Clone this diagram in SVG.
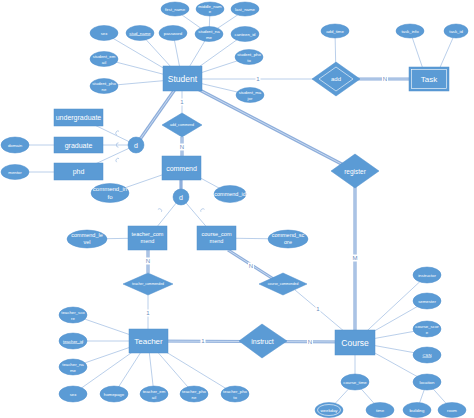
<svg xmlns="http://www.w3.org/2000/svg" width="474" height="418" viewBox="0 0 474 418">
<style>
.bg{fill:#fff}
.n{fill:#5b9bd5;stroke:#4f8fcc;stroke-width:0.5}
.w{fill:none;stroke:#fff;stroke-width:0.6}
.t{font-family:'Liberation Sans',Arial,sans-serif;fill:#fff;text-anchor:middle}
.a{font-size:4.3px}
.r{font-size:7px}
.e{font-size:8.5px}
.ln{stroke:#a8c3e5;stroke-width:0.8;fill:none}
.dbo{stroke:#8eaedb;stroke-width:3.2;fill:none}
.dbi{stroke:#d6e3f5;stroke-width:0.8;fill:none}
.c{font-family:'Liberation Sans',Arial,sans-serif;font-size:6px;fill:#6a8bbd;text-anchor:middle}
.cb{fill:#fff}
.sub{fill:none;stroke:#a8c3e5;stroke-width:0.8}
.u{text-decoration:underline}
</style>
<rect class="bg" x="0" y="0" width="474" height="418"/>
<g id="connectors">
  <!-- Student attributes -->
  <line class="ln" x1="182" y1="79" x2="104" y2="33"/>
  <line class="ln" x1="182" y1="79" x2="140" y2="33"/>
  <line class="ln" x1="182" y1="79" x2="173" y2="33"/>
  <line class="ln" x1="182" y1="79" x2="209" y2="34"/>
  <line class="ln" x1="182" y1="79" x2="245" y2="34"/>
  <line class="ln" x1="182" y1="79" x2="249" y2="57"/>
  <line class="ln" x1="182" y1="79" x2="250" y2="95"/>
  <line class="ln" x1="182" y1="79" x2="104" y2="59"/>
  <line class="ln" x1="182" y1="79" x2="104" y2="86"/>
  <line class="ln" x1="209" y1="34" x2="175" y2="10"/>
  <line class="ln" x1="209" y1="34" x2="210" y2="10"/>
  <line class="ln" x1="209" y1="34" x2="245" y2="10"/>
  <!-- Student - add - Task -->
  <line class="ln" x1="182" y1="79" x2="336" y2="79"/>
  <line class="ln" x1="335" y1="31" x2="336" y2="79"/>
  <line class="dbo" x1="336" y1="79" x2="429" y2="79"/>
  <line class="dbi" x1="336" y1="79" x2="429" y2="79"/>
  <line class="ln" x1="410" y1="31" x2="424" y2="72"/>
  <line class="ln" x1="456" y1="31" x2="438" y2="72"/>
  <!-- Student - register - Course -->
  <line class="dbo" x1="192" y1="86" x2="355" y2="171"/>
  <line class="dbi" x1="192" y1="86" x2="355" y2="171"/>
  <line class="dbo" x1="355" y1="171" x2="355" y2="342"/>
  <line class="dbi" x1="355" y1="171" x2="355" y2="342"/>
  <!-- Student specialization -->
  <line class="dbo" x1="136" y1="145" x2="178" y2="85"/>
  <line class="dbi" x1="136" y1="145" x2="178" y2="85"/>
  <line class="ln" x1="78" y1="117" x2="136" y2="145"/>
  <line class="ln" x1="78" y1="145" x2="136" y2="145"/>
  <line class="ln" x1="78" y1="172" x2="136" y2="145"/>
  <line class="ln" x1="15" y1="145" x2="78" y2="145"/>
  <line class="ln" x1="15" y1="172" x2="78" y2="172"/>
  <path class="sub" d="M119,131.2 a2.2,2.2 0 0 0 -2.1,3.9"/>
  <path class="sub" d="M118.5,142.8 a2.2,2.2 0 0 0 0,4.4"/>
  <path class="sub" d="M119,158.5 a2.2,2.2 0 0 0 -2.3,3.7"/>
  <!-- add_commend / commend -->
  <line class="ln" x1="182" y1="91" x2="182" y2="113"/>
  <line class="dbo" x1="182" y1="137" x2="182" y2="156"/>
  <line class="dbi" x1="182" y1="137" x2="182" y2="156"/>
  <line class="ln" x1="110" y1="193" x2="182" y2="168"/>
  <line class="ln" x1="230" y1="194" x2="182" y2="168"/>
  <line class="dbo" x1="181" y1="180" x2="181" y2="197"/>
  <line class="ln" x1="181" y1="197" x2="148" y2="238"/>
  <line class="ln" x1="181" y1="197" x2="216" y2="238"/>
  <path class="sub" d="M161.5,211.8 a2.2,2.2 0 0 0 -3.6,-2.4"/>
  <path class="sub" d="M204.5,209.4 a2.2,2.2 0 0 0 -3.6,2.4"/>
  <line class="ln" x1="87" y1="239" x2="148" y2="238"/>
  <line class="ln" x1="288" y1="239" x2="216" y2="238"/>
  <!-- teacher_commended -->
  <line class="dbo" x1="148" y1="250" x2="148" y2="273"/>
  <line class="dbi" x1="148" y1="250" x2="148" y2="273"/>
  <line class="ln" x1="148" y1="295" x2="148" y2="329"/>
  <!-- course_commended -->
  <line class="dbo" x1="228" y1="250" x2="275" y2="280"/>
  <line class="dbi" x1="228" y1="250" x2="275" y2="280"/>
  <line class="ln" x1="295" y1="290" x2="345" y2="332"/>
  <!-- instruct -->
  <line class="dbo" x1="148" y1="341" x2="355" y2="342"/>
  <line class="dbi" x1="148" y1="341" x2="355" y2="342"/>
  <!-- Teacher attributes -->
  <line class="ln" x1="148" y1="341" x2="73" y2="315"/>
  <line class="ln" x1="148" y1="341" x2="73" y2="341"/>
  <line class="ln" x1="148" y1="341" x2="73" y2="367"/>
  <line class="ln" x1="148" y1="341" x2="73" y2="394"/>
  <line class="ln" x1="148" y1="341" x2="114" y2="394"/>
  <line class="ln" x1="148" y1="341" x2="154" y2="394"/>
  <line class="ln" x1="148" y1="341" x2="194" y2="394"/>
  <line class="ln" x1="148" y1="341" x2="235" y2="394"/>
  <!-- Course attributes -->
  <line class="ln" x1="355" y1="342" x2="427" y2="275"/>
  <line class="ln" x1="355" y1="342" x2="427" y2="301"/>
  <line class="ln" x1="355" y1="342" x2="427" y2="329"/>
  <line class="ln" x1="355" y1="342" x2="427" y2="355"/>
  <line class="ln" x1="355" y1="342" x2="427" y2="382"/>
  <line class="ln" x1="355" y1="342" x2="355" y2="382"/>
  <line class="ln" x1="355" y1="382" x2="329" y2="410"/>
  <line class="ln" x1="355" y1="382" x2="380" y2="410"/>
  <line class="ln" x1="427" y1="382" x2="417" y2="410"/>
  <line class="ln" x1="427" y1="382" x2="452" y2="410"/>
  <!-- cardinalities -->
  <rect class="cb" x="255.5" y="75.5" width="5" height="7"/><text class="c" x="258" y="81">1</text>
  <rect class="cb" x="382" y="75.5" width="6" height="7"/><text class="c" x="385" y="81">N</text>
  <rect class="cb" x="351.5" y="254.5" width="7" height="7"/><text class="c" x="355" y="260">M</text>
  <rect class="cb" x="179.5" y="98.5" width="5" height="7"/><text class="c" x="182" y="104">1</text>
  <rect class="cb" x="179" y="143.5" width="6" height="7"/><text class="c" x="182" y="149">N</text>
  <rect class="cb" x="145" y="257.5" width="6" height="7"/><text class="c" x="148" y="263">N</text>
  <rect class="cb" x="145.5" y="309.5" width="5" height="7"/><text class="c" x="148" y="315">1</text>
  <rect class="cb" x="248" y="262.5" width="6" height="7"/><text class="c" x="251" y="268">N</text>
  <rect class="cb" x="315.5" y="305.5" width="5" height="7"/><text class="c" x="318" y="311">1</text>
  <rect class="cb" x="200.5" y="337.5" width="5" height="7"/><text class="c" x="203" y="343">1</text>
  <rect class="cb" x="307" y="338.5" width="6" height="7"/><text class="c" x="310" y="344">N</text>
</g>
<g id="student">
  <rect class="n" x="163" y="66" width="39" height="25"/>
  <text class="t e" x="182.5" y="82">Student</text>
</g>
<g id="attr-sex"><ellipse class="n" cx="104" cy="33" rx="14" ry="7.5"/><text class="t a" x="104" y="34.5">sex</text></g>
<g id="attr-stud-name"><ellipse class="n" cx="140" cy="33" rx="14" ry="7.5"/><text class="t a u" x="140" y="34.5">stud_name</text></g>
<g id="attr-password"><ellipse class="n" cx="173" cy="33" rx="14" ry="7.5"/><text class="t a" x="173" y="34.5">password</text></g>
<g id="attr-student-name"><ellipse class="n" cx="209" cy="34" rx="14" ry="7.5"/><text class="t a" x="209" y="33">student_na</text><text class="t a" x="209" y="38.5">me</text></g>
<g id="attr-canteen"><ellipse class="n" cx="245" cy="34" rx="14" ry="7.5"/><text class="t a" x="245" y="35.5">canteen_id</text></g>
<g id="attr-first"><ellipse class="n" cx="175" cy="9" rx="14" ry="7"/><text class="t a" x="175" y="10.5">first_name</text></g>
<g id="attr-middle"><ellipse class="n" cx="210" cy="9" rx="14" ry="7"/><text class="t a" x="210" y="8">middle_nam</text><text class="t a" x="210" y="13">e</text></g>
<g id="attr-last"><ellipse class="n" cx="245" cy="9" rx="14" ry="7"/><text class="t a" x="245" y="10.5">last_name</text></g>
<g id="attr-student-photo"><ellipse class="n" cx="249" cy="57" rx="14" ry="7.5"/><text class="t a" x="249" y="56">student_pho</text><text class="t a" x="249" y="61.5">to</text></g>
<g id="attr-student-major"><ellipse class="n" cx="250" cy="95" rx="14" ry="7.5"/><text class="t a" x="250" y="94">student_ma</text><text class="t a" x="250" y="99.5">jor</text></g>
<g id="attr-student-email"><ellipse class="n" cx="104" cy="59" rx="14" ry="7.5"/><text class="t a" x="104" y="58">student_em</text><text class="t a" x="104" y="63.5">ail</text></g>
<g id="attr-student-phone"><ellipse class="n" cx="104" cy="86" rx="14" ry="7.5"/><text class="t a" x="104" y="85">student_pho</text><text class="t a" x="104" y="90.5">ne</text></g>
<g id="add">
  <polygon class="n" points="312,79 336,62 360,79 336,96"/>
  <polygon class="w" points="319,79 336,67 353,79 336,91"/>
  <text class="t" style="font-size:6px" x="336" y="81">add</text>
</g>
<g id="attr-add-time"><ellipse class="n" cx="335" cy="31" rx="14" ry="7"/><text class="t a" x="335" y="32.5">add_time</text></g>
<g id="task">
  <rect class="n" x="409" y="67" width="40" height="24"/>
  <rect class="w" x="411.5" y="69.5" width="35" height="19"/>
  <text class="t" style="font-size:8px" x="429" y="82">Task</text>
</g>
<g id="attr-task-info"><ellipse class="n" cx="410" cy="31" rx="14" ry="7"/><text class="t a" x="410" y="32.5">task_info</text></g>
<g id="attr-task-id"><ellipse class="n" cx="456" cy="31" rx="12" ry="7"/><text class="t a" x="456" y="32.5">task_id</text></g>
<g id="register">
  <polygon class="n" points="331,171 355,154 379,171 355,188"/>
  <text class="t" style="font-size:6.5px" x="355" y="173.5">register</text>
</g>
<g id="d-student"><circle class="n" cx="136" cy="145" r="8"/><text class="t" style="font-size:7px" x="136" y="147.5">d</text></g>
<g id="undergraduate"><rect class="n" x="54" y="109" width="49" height="17"/><text class="t" style="font-size:7px" x="78.5" y="120">undergraduate</text></g>
<g id="graduate"><rect class="n" x="54" y="137" width="49" height="16"/><text class="t" style="font-size:7px" x="78.5" y="147.5">graduate</text></g>
<g id="phd"><rect class="n" x="54" y="163" width="49" height="17"/><text class="t" style="font-size:7px" x="78.5" y="174">phd</text></g>
<g id="attr-domain"><ellipse class="n" cx="15" cy="145" rx="14" ry="8"/><text class="t a" x="15" y="146.5">domain</text></g>
<g id="attr-mentor"><ellipse class="n" cx="15" cy="172" rx="14" ry="7.5"/><text class="t a" x="15" y="173.5">mentor</text></g>
<g id="add-commend">
  <polygon class="n" points="162,125 182,113 202,125 182,137"/>
  <text class="t" style="font-size:3.6px" x="182" y="126.3">add_commend</text>
</g>
<g id="commend"><rect class="n" x="162" y="156" width="39" height="24"/><text class="t" style="font-size:7px" x="181.5" y="170.5">commend</text></g>
<g id="attr-commend-info"><ellipse class="n" cx="110" cy="193" rx="19" ry="9.5"/><text class="t" style="font-size:6px" x="110" y="191">commend_in</text><text class="t" style="font-size:6px" x="110" y="198.5">fo</text></g>
<g id="attr-commend-id"><ellipse class="n" cx="230" cy="194" rx="16" ry="8.5"/><text class="t" style="font-size:5.5px" x="230" y="196">commend_id</text></g>
<g id="d-commend"><circle class="n" cx="181" cy="197" r="8"/><text class="t" style="font-size:7px" x="181" y="199.5">d</text></g>
<g id="teacher-commend"><rect class="n" x="128" y="226" width="39" height="24"/><text class="t" style="font-size:5.5px" x="147.5" y="236">teacher_com</text><text class="t" style="font-size:5.5px" x="147.5" y="243">mend</text></g>
<g id="course-commend"><rect class="n" x="197" y="226" width="39" height="24"/><text class="t" style="font-size:5.5px" x="216.5" y="236">course_com</text><text class="t" style="font-size:5.5px" x="216.5" y="243">mend</text></g>
<g id="attr-commend-level"><ellipse class="n" cx="87" cy="239" rx="20" ry="9"/><text class="t" style="font-size:5.5px" x="87" y="237">commend_le</text><text class="t" style="font-size:5.5px" x="87" y="244">vel</text></g>
<g id="attr-commend-score"><ellipse class="n" cx="288" cy="239" rx="20" ry="9"/><text class="t" style="font-size:5.5px" x="288" y="237">commend_sc</text><text class="t" style="font-size:5.5px" x="288" y="244">ore</text></g>
<g id="teacher-commended">
  <polygon class="n" points="123,284 148,273 173,284 148,295"/>
  <text class="t" style="font-size:3.4px" x="148" y="285.2">teacher_commended</text>
</g>
<g id="course-commended">
  <polygon class="n" points="259,284 283,273 307,284 283,295"/>
  <text class="t" style="font-size:3.4px" x="283" y="285.2">course_commended</text>
</g>
<g id="teacher"><rect class="n" x="129" y="329" width="39" height="24"/><text class="t" style="font-size:8px" x="148.5" y="344">Teacher</text></g>
<g id="attr-teacher-score"><ellipse class="n" cx="73" cy="315" rx="14" ry="8"/><text class="t a" x="73" y="314">teacher_sco</text><text class="t a" x="73" y="319.5">re</text></g>
<g id="attr-teacher-id"><ellipse class="n" cx="73" cy="341" rx="14" ry="8"/><text class="t a u" x="73" y="342.5">teacher_id</text></g>
<g id="attr-teacher-name"><ellipse class="n" cx="73" cy="367" rx="14" ry="8"/><text class="t a" x="73" y="366">teacher_na</text><text class="t a" x="73" y="371.5">me</text></g>
<g id="attr-teacher-sex"><ellipse class="n" cx="73" cy="394" rx="14" ry="8"/><text class="t a" x="73" y="395.5">sex</text></g>
<g id="attr-homepage"><ellipse class="n" cx="114" cy="394" rx="14" ry="8"/><text class="t a" x="114" y="395.5">homepage</text></g>
<g id="attr-teacher-email"><ellipse class="n" cx="154" cy="394" rx="14" ry="8"/><text class="t a" x="154" y="393">teacher_em</text><text class="t a" x="154" y="398.5">ail</text></g>
<g id="attr-teacher-phone"><ellipse class="n" cx="194" cy="394" rx="14" ry="8"/><text class="t a" x="194" y="393">teacher_pho</text><text class="t a" x="194" y="398.5">ne</text></g>
<g id="attr-teacher-photo"><ellipse class="n" cx="235" cy="394" rx="14" ry="8"/><text class="t a" x="235" y="393">teacher_pho</text><text class="t a" x="235" y="398.5">to</text></g>
<g id="instruct">
  <polygon class="n" points="239,341 262,324 287,341 262,358"/>
  <text class="t" style="font-size:7px" x="262.5" y="343.5">instruct</text>
</g>
<g id="course"><rect class="n" x="335" y="330" width="40" height="25"/><text class="t" style="font-size:8.5px" x="355" y="345.5">Course</text></g>
<g id="attr-instructor"><ellipse class="n" cx="427" cy="275" rx="14" ry="8"/><text class="t a" x="427" y="276.5">instructor</text></g>
<g id="attr-semester"><ellipse class="n" cx="427" cy="301" rx="14" ry="8"/><text class="t a" x="427" y="302.5">semester</text></g>
<g id="attr-course-score"><ellipse class="n" cx="427" cy="329" rx="14" ry="8"/><text class="t a" x="427" y="328">course_scor</text><text class="t a" x="427" y="333.5">e</text></g>
<g id="attr-csn"><ellipse class="n" cx="427" cy="355" rx="14" ry="8"/><text class="t a u" x="427" y="356.5">CSN</text></g>
<g id="attr-location"><ellipse class="n" cx="427" cy="382" rx="14" ry="8"/><text class="t a" x="427" y="383.5">location</text></g>
<g id="attr-course-time"><ellipse class="n" cx="355" cy="382" rx="14" ry="8"/><text class="t a" x="355" y="383.5">course_time</text></g>
<g id="attr-weekday"><ellipse class="n" cx="329" cy="410" rx="14" ry="7.5"/><ellipse class="w" cx="329" cy="410" rx="11.5" ry="5.5"/><text class="t a" x="329" y="411.5">weekday</text></g>
<g id="attr-time"><ellipse class="n" cx="380" cy="410" rx="14" ry="7.5"/><text class="t a" x="380" y="411.5">time</text></g>
<g id="attr-building"><ellipse class="n" cx="417" cy="410" rx="14" ry="7.5"/><text class="t a" x="417" y="411.5">building</text></g>
<g id="attr-room"><ellipse class="n" cx="452" cy="410" rx="14" ry="7.5"/><text class="t a" x="452" y="411.5">room</text></g>
</svg>
